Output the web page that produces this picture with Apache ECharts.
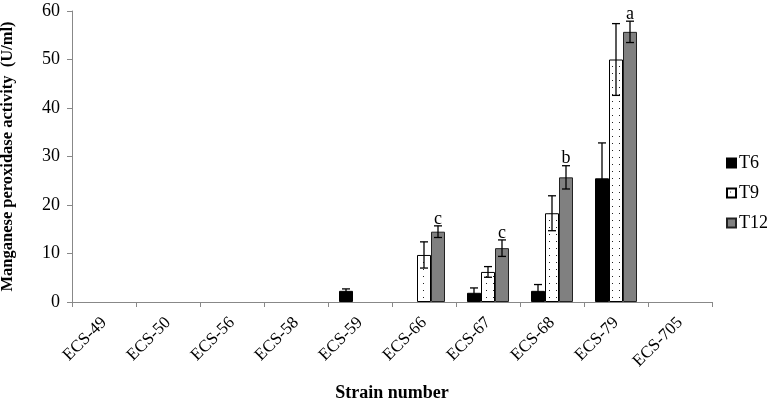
<!DOCTYPE html>
<html><head><meta charset="utf-8">
<script src="https://cdn.jsdelivr.net/npm/echarts@6/dist/echarts.min.js"></script>
<style>html,body{margin:0;padding:0;background:#fff}#c{width:767px;height:402px}</style>
</head><body><div id="c"></div>
<script>
const categories = ['ECS-49','ECS-50','ECS-56','ECS-58','ECS-59','ECS-66','ECS-67','ECS-68','ECS-79','ECS-705'];
const seriesNames = ['T6','T9','T12'];
const t6  = [null,null,null,null,2.3,null,1.9,2.3,25.5,null];
const t9  = [null,null,null,null,null,9.7,6.2,18.3,50.0,null];
const t12 = [null,null,null,null,null,14.5,11.1,25.7,55.7,null];
const t6Err  = [null,null,null,null,0.4,null,1.0,1.3,7.3,null];
const t9Err  = [null,null,null,null,null,2.7,1.1,3.6,7.4,null];
const t12Err = [null,null,null,null,null,1.2,1.7,2.4,2.2,null];
const letters = [null,null,null,null,null,'c','c','b','a',null];
const yTicks = [0,10,20,30,40,50,60];

const FONT = '"Liberation Serif","DejaVu Serif",serif';
const BW = 14;

// dotted pattern for T9
const pc = document.createElement('canvas');
pc.width = 7; pc.height = 7;
const pctx = pc.getContext('2d');
pctx.fillStyle = '#fff'; pctx.fillRect(0,0,7,7);
pctx.fillStyle = '#222'; pctx.fillRect(3,3,1,1);

const chart = echarts.init(document.getElementById('c'), null, {renderer:'canvas'});

const values = [t6,t9,t12];
const errs = [t6Err,t9Err,t12Err];
const errData = [];
for (let s=0;s<3;s++) for (let i=0;i<categories.length;i++) {
  if (values[s][i] != null && errs[s][i] != null) errData.push([i, values[s][i], errs[s][i], s]);
}
const letterData = [];
for (let i=0;i<categories.length;i++) if (letters[i]) letterData.push([i, t12[i]+t12Err[i], letters[i]]);

chart.setOption({
  animation:false,
  textStyle:{fontFamily:FONT},
  grid:{left:72,right:55,top:11,bottom:100,containLabel:false,outerBoundsMode:'none'},
  legend:{
    orient:'vertical', left:721, top:149, itemWidth:9, itemHeight:9, itemGap:12,
    data:seriesNames, icon:'rect',
    textStyle:{fontFamily:FONT,fontSize:18,color:'#000',lineHeight:18,padding:[0,0,0,-2]}
  },
  xAxis:{
    type:'category', data:categories,
    name:'Strain number', nameLocation:'middle', nameGap:82,
    nameTextStyle:{fontFamily:FONT,fontSize:18,fontWeight:'bold',color:'#000'},
    axisLine:{lineStyle:{color:'#888',width:1}},
    axisTick:{show:true,length:5,lineStyle:{color:'#888'}},
    axisLabel:{rotate:45,fontFamily:FONT,fontSize:17,color:'#000',margin:18,interval:0}
  },
  yAxis:{
    type:'value', min:0, max:60, interval:10,
    name:'Manganese peroxidase activity  (U/ml)', nameLocation:'middle', nameGap:56,
    nameTextStyle:{fontFamily:FONT,fontSize:16.5,fontWeight:'bold',color:'#000'},
    axisLine:{show:true,lineStyle:{color:'#888',width:1}},
    axisTick:{show:true,length:5,lineStyle:{color:'#888'}},
    axisLabel:{fontFamily:FONT,fontSize:18,color:'#000',margin:12,
      formatter:v=>yTicks.includes(v)?String(v):''},
    splitLine:{show:false}
  },
  series:[
    {name:'T6',type:'bar',data:t6,barWidth:BW,barGap:'0%',
      itemStyle:{color:'#000',borderColor:'#000',borderWidth:1}},
    {name:'T9',type:'bar',data:t9,barWidth:BW,barGap:'0%',
      itemStyle:{color:{image:pc,repeat:'repeat'},borderColor:'#000',borderWidth:1}},
    {name:'T12',type:'bar',data:t12,barWidth:BW,barGap:'0%',
      itemStyle:{color:'#808080',borderColor:'#222',borderWidth:1}},
    {type:'custom',data:errData,z:10,silent:true,
      renderItem:function(params,api){
        const i=api.value(0), v=api.value(1), e=api.value(2), s=api.value(3);
        const off=(s-1)*BW;
        const top=api.coord([i,v+e]), bot=api.coord([i,Math.max(v-e,0)]);
        const x=top[0]+off, cw=4;
        const st={stroke:'#000',lineWidth:1.3};
        return {type:'group',children:[
          {type:'line',shape:{x1:x,y1:top[1],x2:x,y2:bot[1]},style:st},
          {type:'line',shape:{x1:x-cw,y1:top[1],x2:x+cw,y2:top[1]},style:st},
          {type:'line',shape:{x1:x-cw,y1:bot[1],x2:x+cw,y2:bot[1]},style:st}
        ]};
      }},
    {type:'custom',data:letterData,z:11,silent:true,
      renderItem:function(params,api){
        const p=api.coord([api.value(0),api.value(1)]);
        return {type:'text',style:{x:p[0]+BW,y:p[1]+2,text:letters[api.value(0)],
          font:'18px '+FONT,fill:'#000',align:'center',verticalAlign:'bottom'}};
      }}
  ]
});
</script></body></html>
